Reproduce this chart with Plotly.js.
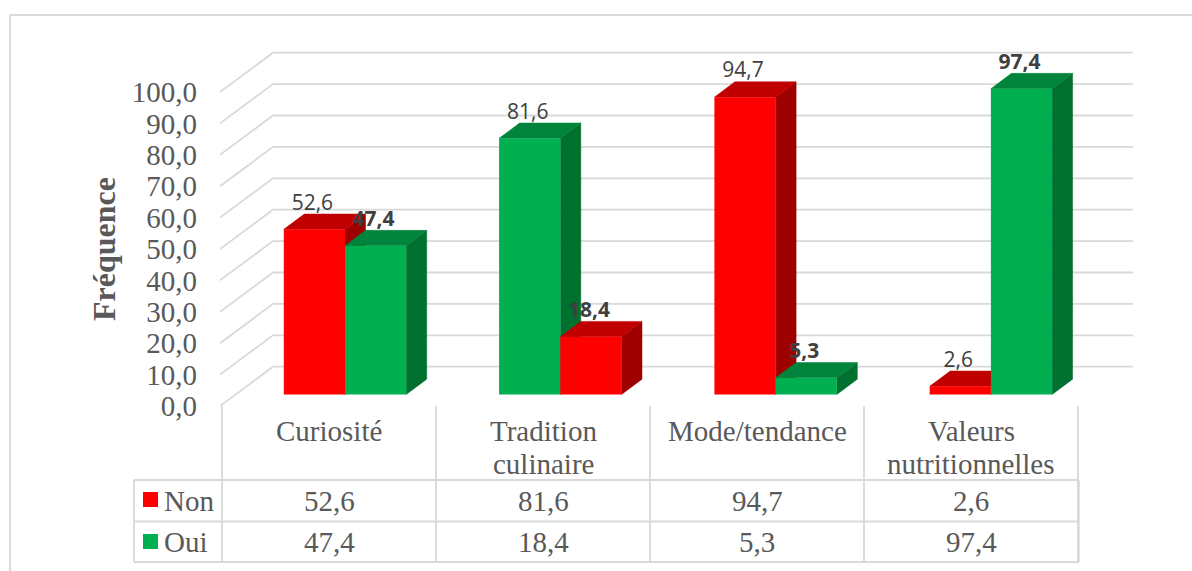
<!DOCTYPE html>
<html lang="fr">
<head>
<meta charset="utf-8">
<script src="https://cdn.plot.ly/plotly-3.0.1.min.js"></script>
<style>html,body{margin:0;padding:0;background:#fff}#chart{width:1192px;height:571px}</style>
</head>
<body>
<div id="chart"></div>
<script>
// Survey answers per motive
const categories = [['Curiosité'], ['Tradition', 'culinaire'], ['Mode/tendance'], ['Valeurs', 'nutritionnelles']];
const seriesNames = ['Non', 'Oui'];
const nonValues = [52.6, 81.6, 94.7, 2.6];
const ouiValues = [47.4, 18.4, 5.3, 97.4];
const yTicks = [0, 10, 20, 30, 40, 50, 60, 70, 80, 90, 100];

// Palette: front face, top face and side face of each extruded column
const RED = {front: '#ff0000', top: '#c00000', side: '#9e0000'};
const GREEN = {front: '#00b050', top: '#00843c', side: '#00702f'};
const nonPalette = [RED, GREEN, RED, RED];
const ouiPalette = [GREEN, RED, GREEN, GREEN];
const GRID = '#d9d9d9';
const SERIF = '"Liberation Serif", serif';
const SANS = '"Open Sans", sans-serif';

// Page geometry in pixels
const W = 1192, H = 571;
const plot = {left: 220, right: 1133, top: 40, bottom: 406};
const groupStep = 215.3, firstGroup = 345, barPx = 61.2;
const pxPerUnit = 3.14;
const floorOffsetPx = 11.5;               // columns stand this far above the front edge of the floor
const barDepth = {x: 20.5, y: 15.3};      // extrusion of one column
const wallDepth = {x: 53, y: 39.3};       // distance from floor front edge to back wall

const xOf = px => (px - firstGroup) / groupStep;
const xRange = [xOf(plot.left), xOf(plot.right)];
const plotHeightUnits = (plot.bottom - plot.top) / pxPerUnit;
const floorUnits = floorOffsetPx / pxPerUnit;
const wallRange = [0, plotHeightUnits];
const barRange = [-floorUnits, plotHeightUnits - floorUnits];

const barWidth = barPx / groupStep;
const dx = barDepth.x / groupStep, dy = barDepth.y / pxPerUnit;

const traces = [];

// Slanted side-wall segment and back-wall line for every gridline
const gridX = [], gridY = [];
yTicks.forEach(v => {
  gridX.push(xRange[0], xRange[0] + wallDepth.x / groupStep, xRange[1], null);
  const back = v + wallDepth.y / pxPerUnit;
  gridY.push(v, back, back, null);
});
traces.push({type: 'scatter', mode: 'lines', x: gridX, y: gridY, yaxis: 'y',
  line: {color: GRID, width: 1.8}, hoverinfo: 'skip'});

// Top and side faces, drawn left to right so nearer columns cover farther ones
function addFaces(xl, v, colors) {
  const xr = xl + barWidth;
  traces.push({type: 'scatter', mode: 'lines', fill: 'toself', yaxis: 'y2', hoverinfo: 'skip',
    x: [xr, xr, xr + dx, xr + dx, xr], y: [0, v, v + dy, dy, 0],
    fillcolor: colors.side, line: {color: colors.side, width: 0.5}});
  traces.push({type: 'scatter', mode: 'lines', fill: 'toself', yaxis: 'y2', hoverinfo: 'skip',
    x: [xl, xr, xr + dx, xl + dx, xl], y: [v, v, v + dy, v + dy, v],
    fillcolor: colors.top, line: {color: colors.top, width: 0.5}});
}
categories.forEach((_, i) => {
  addFaces(i - barWidth, nonValues[i], nonPalette[i]);
  addFaces(i, ouiValues[i], ouiPalette[i]);
});

// Front faces
const groupX = categories.map((_, i) => i);
traces.push({type: 'bar', name: seriesNames[0], x: groupX, y: nonValues, yaxis: 'y3',
  marker: {color: nonPalette.map(c => c.front), line: {width: 0}}, hoverinfo: 'skip'});
traces.push({type: 'bar', name: seriesNames[1], x: groupX, y: ouiValues, yaxis: 'y3',
  marker: {color: ouiPalette.map(c => c.front), line: {width: 0}}, hoverinfo: 'skip'});

// Value labels above each column
const fmt = v => v.toFixed(1).replace('.', ',');
const labelLift = 25 / pxPerUnit, labelNudge = 2 / groupStep;
[[nonValues, -barWidth / 2, 400], [ouiValues, barWidth / 2, 700]].forEach(([vals, off, weight]) => {
  traces.push({type: 'scatter', mode: 'text', yaxis: 'y3', hoverinfo: 'skip', cliponaxis: false,
    x: groupX.map(i => i + off - labelNudge), y: vals.map(v => v + labelLift),
    text: vals.map(fmt), textposition: 'middle center',
    textfont: {family: SANS, size: 21, color: '#404040', weight}});
});

// Pixel positions to paper coordinates
const px = x => (x - plot.left) / (plot.right - plot.left);
const py = y => (plot.bottom - y) / (plot.bottom - plot.top);
const rule = (x0, y0, x1, y1, width) => ({type: 'line', xref: 'paper', yref: 'paper', layer: 'below',
  x0: px(x0), y0: py(y0), x1: px(x1), y1: py(y1), line: {color: GRID, width: width || 1.8}});
const swatch = (x0, y0, size, color) => ({type: 'rect', xref: 'paper', yref: 'paper',
  x0: px(x0), y0: py(y0), x1: px(x0 + size), y1: py(y0 + size), fillcolor: color, line: {width: 0}});

const tableLeft = 134, colX = [222, 436, 650, 864, 1078];
const headTop = 406, row1 = 480, row2 = 521.5, row3 = 562;

const shapes = [
  rule(10, 15, W, 15, 2), rule(10, 15, 10, H, 2),
  rule(tableLeft, row1, colX[4] + 1, row1), rule(tableLeft, row2, colX[4] + 1, row2), rule(tableLeft, row3, colX[4] + 1, row3),
  rule(tableLeft, row1, tableLeft, row3),
  ...colX.map(x => rule(x, headTop, x, row3)),
  rule(colX[4] + 0.5, row1, colX[4] + 0.5, row3, 2.5),
  swatch(143, 492, 15, RED.front), swatch(143, 534, 15, GREEN.front)
];

const label = (text, x, y, size, extra) => Object.assign({
  text, xref: 'paper', yref: 'paper', x: px(x), y: py(y), showarrow: false,
  xanchor: 'center', yanchor: 'middle', font: {family: SERIF, size, color: '#595959'}
}, extra || {});

const TEXT = 29;
const annotations = [];
categories.forEach((lines, i) => {
  const cx = (colX[i] + colX[i + 1]) / 2;
  lines.forEach((line, k) => annotations.push(label(line, cx, 431 + 33 * k, TEXT)));
  annotations.push(label(fmt(nonValues[i]), cx, 500.7, TEXT));
  annotations.push(label(fmt(ouiValues[i]), cx, 541.7, TEXT));
});
annotations.push(label(seriesNames[0], 162, 500.7, TEXT, {xanchor: 'left'}));
annotations.push(label(seriesNames[1], 162, 541.7, TEXT, {xanchor: 'left'}));
annotations.push(label('Fréquence', 104, 249, 32, {textangle: -90,
  font: {family: SERIF, size: 32, color: '#595959', weight: 700}}));

const hiddenValueAxis = {overlaying: 'y', range: barRange, visible: false, fixedrange: true};

const layout = {
  width: W, height: H, autosize: false, showlegend: false,
  margin: {l: plot.left, r: W - plot.right, t: plot.top, b: H - plot.bottom, pad: 0},
  paper_bgcolor: '#fff', plot_bgcolor: 'rgba(0,0,0,0)',
  separators: ', ',
  barmode: 'group', bargap: 1 - 2 * barWidth, bargroupgap: 0,
  xaxis: {range: xRange, visible: false, fixedrange: true},
  yaxis: {range: wallRange, tickvals: yTicks, tickformat: '.1f', showgrid: false, zeroline: false,
    showline: false, ticks: '', ticklabelstandoff: 22, fixedrange: true,
    tickfont: {family: SERIF, size: TEXT, color: '#595959'}},
  yaxis2: hiddenValueAxis,
  yaxis3: hiddenValueAxis,
  shapes, annotations
};

Plotly.newPlot('chart', traces, layout, {staticPlot: true, displayModeBar: false});
</script>
</body>
</html>
